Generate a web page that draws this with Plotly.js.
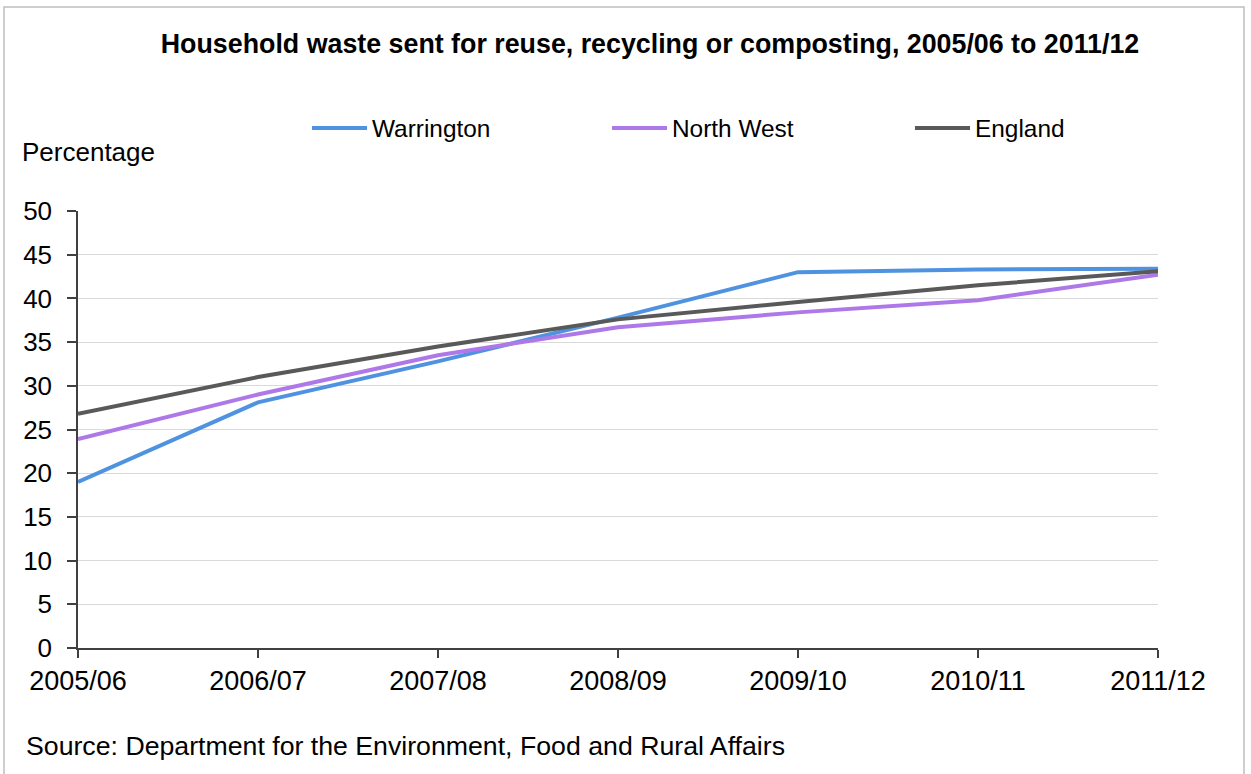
<!DOCTYPE html>
<html>
<head>
<meta charset="utf-8">
<script src="https://cdn.plot.ly/plotly-3.0.1.min.js"></script>
<style>
  html, body { margin: 0; padding: 0; background: #ffffff; }
  #chart { width: 1251px; height: 774px; }
</style>
</head>
<body>
<div id="chart"></div>
<script>
// Household waste sent for reuse, recycling or composting (%)
const years = ["2005/06", "2006/07", "2007/08", "2008/09", "2009/10", "2010/11", "2011/12"];
const warrington = [19.0, 28.1, 32.8, 37.8, 43.0, 43.3, 43.4];
const northWest  = [23.9, 29.0, 33.5, 36.7, 38.4, 39.8, 42.7];
const england    = [26.8, 31.0, 34.5, 37.6, 39.6, 41.5, 43.1];

const seriesNames  = ["Warrington", "North West", "England"];
const seriesColors = ["#4F93E0", "#AE78E8", "#595959"];
const seriesValues = [warrington, northWest, england];

const W = 1251, H = 774;
const M = { l: 78, r: 93, t: 211, b: 126 };
const plotW = W - M.l - M.r, plotH = H - M.t - M.b;
// pixel -> paper coordinates
const px = x => (x - M.l) / plotW;
const py = y => (H - M.b - y) / plotH;

const FONT = "Liberation Sans, Arial, sans-serif";

const traces = seriesValues.map((vals, i) => ({
  type: "scatter",
  mode: "lines",
  x: years,
  y: vals,
  name: seriesNames[i],
  line: { color: seriesColors[i], width: 4 },
  showlegend: false,
  hoverinfo: "x+y+name"
}));

// legend entries: short line sample followed by label
const legendX = [312, 612, 915];
const legendY = 128;
const shapes = [
  {
    type: "rect", xref: "paper", yref: "paper",
    x0: px(4), x1: px(1244), y0: py(778), y1: py(7),
    line: { color: "#BFBFBF", width: 1.5 }, fillcolor: "rgba(0,0,0,0)", layer: "below"
  }
];
const annotations = [
  {
    xref: "paper", yref: "paper", x: px(20), y: py(152),
    xanchor: "left", yanchor: "middle", showarrow: false,
    text: "Percentage", font: { family: FONT, size: 26, color: "#000" }
  },
  {
    xref: "paper", yref: "paper", x: px(24), y: py(746),
    xanchor: "left", yanchor: "middle", showarrow: false,
    text: "Source: Department for the Environment, Food and Rural Affairs",
    font: { family: FONT, size: 26.7, color: "#000" }
  }
];
seriesNames.forEach((name, i) => {
  shapes.push({
    type: "line", xref: "paper", yref: "paper",
    x0: px(legendX[i]), x1: px(legendX[i] + 55), y0: py(legendY), y1: py(legendY),
    line: { color: seriesColors[i], width: 4 }
  });
  annotations.push({
    xref: "paper", yref: "paper", x: px(legendX[i] + 58), y: py(legendY),
    xanchor: "left", yanchor: "middle", showarrow: false,
    text: name, font: { family: FONT, size: 24.4, color: "#000" }
  });
});

const layout = {
  width: W, height: H,
  margin: M,
  paper_bgcolor: "#ffffff",
  plot_bgcolor: "#ffffff",
  font: { family: FONT, size: 26, color: "#000" },
  title: {
    text: "<b>Household waste sent for reuse, recycling or composting, 2005/06 to 2011/12</b>",
    font: { family: FONT, size: 26.8, color: "#000" },
    xref: "container", yref: "container",
    x: 650 / W, y: 1 - 44 / H, xanchor: "center", yanchor: "middle"
  },
  xaxis: {
    type: "category",
    range: [0, 6],
    showgrid: false,
    showline: true, linecolor: "#404040", linewidth: 1.5,
    ticks: "outside", ticklen: 8, tickcolor: "#404040", tickwidth: 1.5,
    tickfont: { family: FONT, size: 27, color: "#000" },
    fixedrange: true
  },
  yaxis: {
    range: [0, 50], dtick: 5, tick0: 0,
    showgrid: true, gridcolor: "#D9D9D9", gridwidth: 1,
    zeroline: false,
    showline: true, linecolor: "#404040", linewidth: 1.5,
    ticks: "outside", ticklen: 9, tickcolor: "#404040", tickwidth: 1.5,
    ticklabelstandoff: 10,
    tickfont: { family: FONT, size: 26, color: "#000" },
    fixedrange: true
  },
  shapes: shapes,
  annotations: annotations,
  showlegend: false
};

Plotly.newPlot("chart", traces, layout, { displayModeBar: false });
</script>
</body>
</html>
